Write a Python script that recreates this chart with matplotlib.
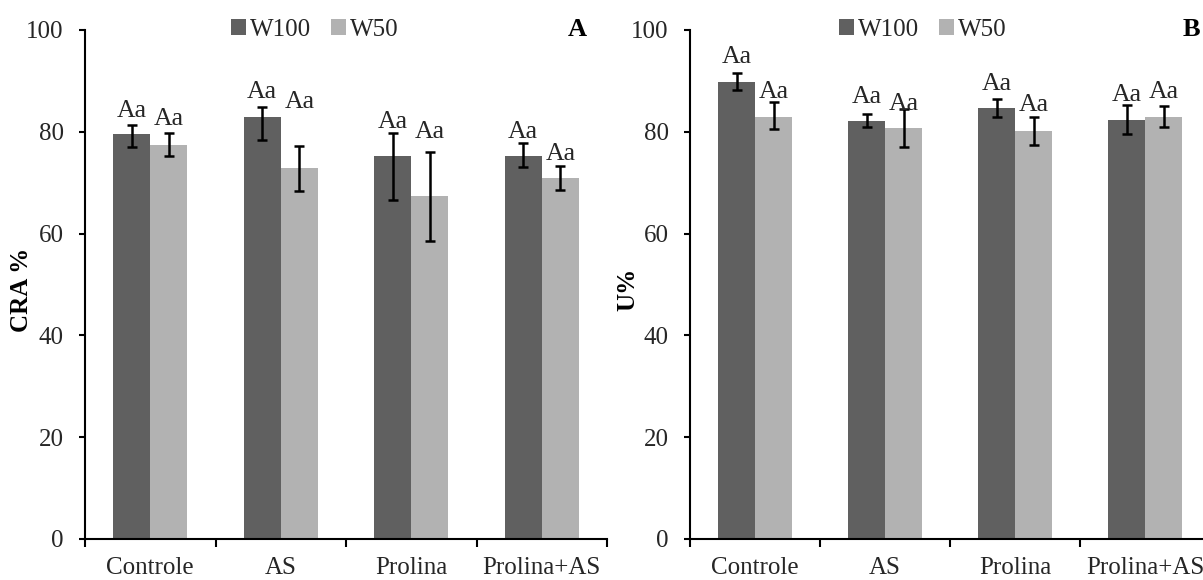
import matplotlib
matplotlib.use('Agg')
import matplotlib.pyplot as plt
import numpy as np

plt.rcParams['font.family'] = ['Liberation Serif', 'DejaVu Serif']

categories = ['Controle', 'AS', 'Prolina', 'Prolina+AS']
series = ['W100', 'W50']

# panel A - CRA %
cra_w100 = [79.5, 83.0, 75.3, 75.3]
cra_w100_up = [1.8, 1.8, 4.4, 2.4]
cra_w100_lo = [2.4, 4.7, 8.7, 2.2]
cra_w50 = [77.4, 72.8, 67.3, 70.9]
cra_w50_up = [2.4, 4.4, 8.7, 2.3]
cra_w50_lo = [2.1, 4.4, 8.8, 2.3]
cra_lab_w100 = [82.9, 86.6, 80.7, 78.7]
cra_lab_w50 = [81.3, 84.6, 78.7, 74.5]

# panel B - U%
u_w100 = [89.7, 82.2, 84.7, 82.4]
u_w100_up = [1.9, 1.3, 1.8, 2.9]
u_w100_lo = [1.5, 1.3, 1.8, 2.8]
u_w50 = [82.9, 80.7, 80.2, 82.9]
u_w50_up = [2.9, 3.8, 2.8, 2.1]
u_w50_lo = [2.4, 3.7, 2.8, 2.0]
u_lab_w100 = [93.5, 85.7, 88.2, 86.0]
u_lab_w50 = [86.6, 84.3, 84.0, 86.6]

dark = '#606060'
light = '#b2b2b2'
txt = '#262626'


def draw_panel(ax, w100, w100_up, w100_lo, w50, w50_up, w50_lo, lab100, lab50, ylabel, letter, leg_x, let_x, lab_x):
    x = np.arange(len(categories))
    bw = 0.284
    ax.bar(x - bw / 2, w100, bw, color=dark, label=series[0], zorder=2)
    ax.bar(x + bw / 2, w50, bw, color=light, label=series[1], zorder=2)
    ax.errorbar(x - bw / 2, w100, yerr=[w100_lo, w100_up], fmt='none', ecolor='black',
                elinewidth=1.8, capsize=3.8, capthick=1.8, zorder=3)
    ax.errorbar(x + bw / 2, w50, yerr=[w50_lo, w50_up], fmt='none', ecolor='black',
                elinewidth=1.8, capsize=3.8, capthick=1.8, zorder=3)
    for i in range(len(categories)):
        ax.text(x[i] - bw / 2, lab100[i], 'Aa', ha='center', va='baseline', fontsize=18.5, color=txt)
        ax.text(x[i] + bw / 2, lab50[i], 'Aa', ha='center', va='baseline', fontsize=18.5, color=txt)

    ax.set_xlim(-0.5, len(categories) - 0.5)
    ax.set_ylim(0, 100)
    ax.set_yticks(range(0, 101, 20))
    ax.set_xticks(x)
    ax.set_xticklabels(categories)
    ax.set_xticks(np.arange(-0.5, len(categories)), minor=True)
    ax.tick_params(axis='x', which='major', length=0, pad=13, labelsize=18, labelcolor=txt)
    ax.tick_params(axis='x', which='minor', length=6, width=1.5, direction='out')
    ax.tick_params(axis='y', length=4.5, width=1.5, direction='out', pad=11, labelsize=18, labelcolor=txt)
    for s in ['top', 'right']:
        ax.spines[s].set_visible(False)
    for s in ['left', 'bottom']:
        ax.spines[s].set_linewidth(1.5)
    ax.set_ylabel(ylabel, fontsize=18, fontweight='bold', color='black')
    ax.yaxis.set_label_coords(lab_x, 0.49)
    ax.legend(loc='center', bbox_to_anchor=(leg_x, 1.0), ncol=2, frameon=False, fontsize=18,
              handlelength=0.6, handleheight=0.6, handletextpad=0.15, columnspacing=0.8,
              labelcolor=txt)
    ax.text(let_x, 1.0, letter, transform=ax.transAxes, ha='center', va='center',
            fontsize=19, fontweight='bold')


fig = plt.figure(figsize=(12.03, 5.8), dpi=100)
ax1 = fig.add_axes([0.0707, 0.0707, 0.4339, 0.8776])
ax2 = fig.add_axes([0.5736, 0.0707, 0.4323, 0.8776])

draw_panel(ax1, cra_w100, cra_w100_up, cra_w100_lo, cra_w50, cra_w50_up, cra_w50_lo,
           cra_lab_w100, cra_lab_w50, 'CRA %', 'A', 0.44, 0.944, -0.10)
draw_panel(ax2, u_w100, u_w100_up, u_w100_lo, u_w50, u_w50_up, u_w50_lo,
           u_lab_w100, u_lab_w50, 'U%', 'B', 0.448, 0.965, -0.098)

fig.savefig('out.png', dpi=100)
